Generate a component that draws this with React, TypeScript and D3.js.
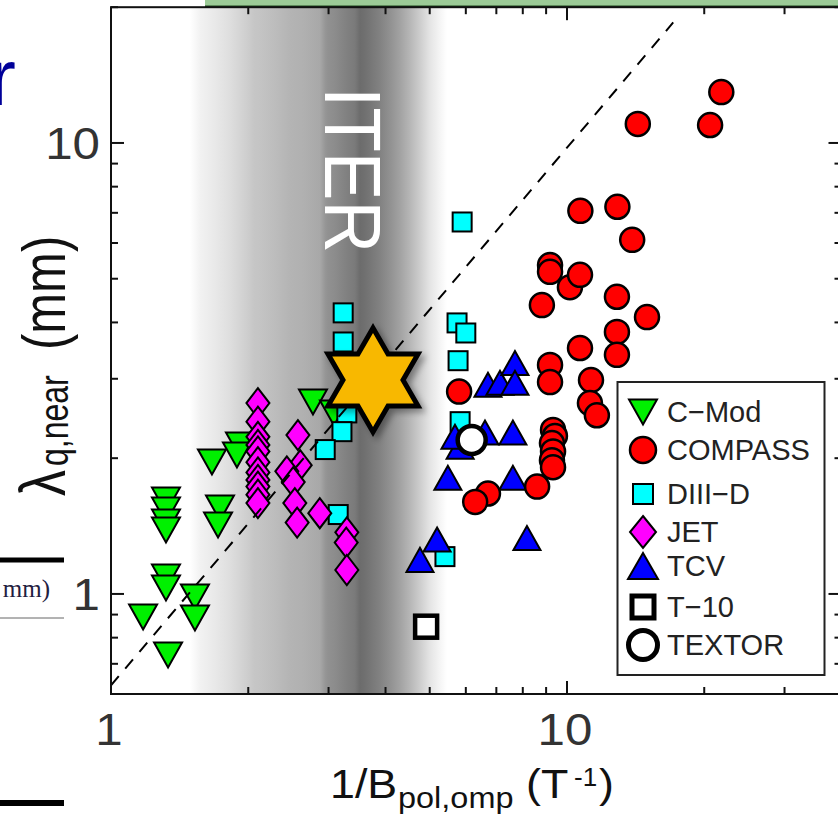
import React from "react";
import * as d3 from "d3";

// ---------- data ----------
const xDomain = [1, 40];
const yDomain = [0.6, 20];
const xMajorTicks = [1, 10];
const xMinorTicks = [2, 3, 4, 5, 6, 7, 8, 9, 20, 30, 40];
const yMajorTicks = [1, 10];
const yMinorTicks = [0.6, 0.7, 0.8, 0.9, 2, 3, 4, 5, 6, 7, 8, 9, 20];
const xTickLabels = ["1", "10"];
const yTickLabels = ["1", "10"];

const cmodX = [1.176, 1.32, 1.32, 1.32, 1.32, 1.32, 1.32, 1.334, 1.528, 1.528, 1.665, 1.734, 1.717, 1.918, 1.889, 2.773, 3.083];
const cmodY = [0.889, 1.616, 1.536, 1.444, 1.386, 1.091, 1.031, 0.732, 0.985, 0.885, 1.962, 1.551, 1.422, 2.14, 2.033, 2.666, 2.52];

const diiidX = [3.23, 3.23, 3.29, 3.21, 2.95, 3.15, 5.89, 5.74, 6.0, 5.77, 5.83, 5.4];
const diiidY = [4.2, 3.62, 2.52, 2.29, 2.09, 1.5, 6.68, 3.99, 3.79, 3.29, 2.41, 1.21];

const jetX = [2.1, 2.1, 2.1, 2.1, 2.1, 2.1, 2.1, 2.1, 2.1, 2.1, 2.1, 2.57, 2.6, 2.43, 2.51, 2.53, 2.56, 2.87, 3.29, 3.28, 3.29];
const jetY = [2.65, 2.41, 2.23, 2.14, 2.07, 1.96, 1.86, 1.79, 1.73, 1.66, 1.59, 2.25, 1.93, 1.87, 1.77, 1.59, 1.44, 1.51, 1.37, 1.3, 1.13];

const tcvX = [4.76, 5.19, 5.48, 5.83, 5.68, 6.71, 7.13, 7.69, 7.69, 6.61, 7.61, 7.61, 8.17];
const tcvY = [1.19, 1.32, 1.81, 2.12, 2.23, 2.91, 2.94, 3.25, 2.94, 2.28, 2.28, 1.81, 1.33];

const compassX = [21.8, 14.3, 20.6, 10.7, 12.9, 13.9, 9.18, 9.18, 10.15, 10.68, 8.81, 12.87, 14.98, 12.87, 10.68, 12.87, 9.18, 9.18, 11.29, 11.23, 11.63, 5.8, 9.32, 9.41, 9.27, 9.32, 9.27, 9.32, 8.6, 6.71, 6.29];
const compassY = [12.97, 11.02, 10.96, 7.07, 7.22, 6.1, 5.36, 5.18, 4.79, 5.1, 4.37, 4.56, 4.11, 3.81, 3.51, 3.39, 3.22, 2.95, 2.98, 2.65, 2.49, 2.81, 2.31, 2.24, 2.16, 2.07, 1.98, 1.91, 1.73, 1.67, 1.6];

const t10X = [4.91];
const t10Y = [0.846];
const textorX = [6.18];
const textorY = [2.195];

const iterX = [3.755];
const iterY = [2.982];

const fitX = [1.0, 17.1];
const fitY = [0.627, 18.5];

// ITER 1/Bpol distribution band (x position, grey level)
const bandX = [1.49, 1.567, 1.7, 1.824, 1.997, 2.06, 2.122, 2.3, 2.47, 2.65, 2.873, 2.95, 2.99, 3.1, 3.179, 3.3, 3.428, 3.517, 3.6, 3.698, 3.89, 4.091, 4.303, 4.5, 4.761, 5.0, 5.267, 5.456];
const bandGray = [255, 242, 232, 222, 205, 198, 196, 188, 180, 176, 168, 150, 145, 140, 135, 128, 122, 108, 112, 118, 130, 145, 162, 180, 205, 228, 245, 255];

const legendLabels = ["C\u2212Mod", "COMPASS", "DIII\u2212D", "JET", "TCV", "T\u221210", "TEXTOR"];

// ---------- layout ----------
const W = 838;
const H = 815;
const P = { left: 111, right: 841.5, top: 7.2, bottom: 694 };
const FONT = "'Liberation Sans', Arial, Helvetica, sans-serif";

const x = d3.scaleLog().domain(xDomain).range([P.left, P.right]);
const y = d3.scaleLog().domain(yDomain).range([P.bottom, P.top]);

const zip = (xs: number[], ys: number[]) => xs.map((v, i) => ({ x: v, y: ys[i] }));

const triDown = (cx: number, cy: number, hw = 14, h = 25) =>
  `M${cx - hw},${cy - h / 2}L${cx + hw},${cy - h / 2}L${cx},${cy + h / 2}Z`;
const triUp = (cx: number, cy: number, hw = 14, h = 25) =>
  `M${cx - hw},${cy + h / 2}L${cx + hw},${cy + h / 2}L${cx},${cy - h / 2}Z`;
const diamond = (cx: number, cy: number, rx = 11.5, ry = 15) =>
  `M${cx},${cy - ry}L${cx + rx},${cy}L${cx},${cy + ry}L${cx - rx},${cy}Z`;
const hexagram = (cx: number, cy: number, R = 52, r = 30) => {
  const pts: string[] = [];
  for (let i = 0; i < 12; i++) {
    const a = -Math.PI / 2 + (i * Math.PI) / 6;
    const rr = i % 2 === 0 ? R : r;
    pts.push(`${cx + rr * Math.cos(a)},${cy + rr * Math.sin(a)}`);
  }
  return "M" + pts.join("L") + "Z";
};

export default function App() {
  const cmod = zip(cmodX, cmodY);
  const diiid = zip(diiidX, diiidY);
  const jet = zip(jetX, jetY);
  const tcv = zip(tcvX, tcvY);
  const compass = zip(compassX, compassY);
  const t10 = zip(t10X, t10Y);
  const textor = zip(textorX, textorY);
  const iter = zip(iterX, iterY);
  const fit = zip(fitX, fitY);

  const bx0 = x(bandX[0]);
  const bx1 = x(bandX[bandX.length - 1]);
  const line = d3.line<{ x: number; y: number }>().x((d) => x(d.x)).y((d) => y(d.y));

  const sw = 2;
  const legX = 643;
  const legTextX = 667;
  const legRows = [412, 450, 494, 532, 566, 607, 645];

  return (
    <svg width={W} height={H} style={{ position: "absolute", left: 0, top: 0, background: "#fff" }} fontFamily={FONT}>
      <defs>
        <clipPath id="plotClip">
          <rect x={P.left} y={P.top} width={P.right - P.left} height={P.bottom - P.top} />
        </clipPath>
        <linearGradient id="band" gradientUnits="userSpaceOnUse" x1={bx0} x2={bx1} y1={0} y2={0}>
          {bandX.map((v, i) => (
            <stop key={i} offset={(x(v) - bx0) / (bx1 - bx0)} stopColor={d3.rgb(bandGray[i], bandGray[i], bandGray[i]).toString()} />
          ))}
        </linearGradient>
        <filter id="shadow" x="-30%" y="-30%" width="160%" height="160%">
          <feDropShadow dx="4" dy="4" stdDeviation="3" floodColor="#000" floodOpacity="0.35" />
        </filter>
      </defs>

      {/* background slide fragments */}
      <rect x={205} y={0} width={W - 205} height={6} fill="#9ccb97" />
      <line x1={205} x2={W} y1={6.5} y2={6.5} stroke="#1f4a1f" strokeWidth={2} />
      <text x={16} y={105} textAnchor="end" fontSize={80} fill="#000099">r</text>
      <line x1={0} x2={64} y1={560} y2={560} stroke="#000" strokeWidth={5} />
      <text x={50} y={597} textAnchor="end" fontSize={25} fontFamily="'Liberation Serif', 'Times New Roman', serif" fill="#1f2040">mm)</text>
      <line x1={0} x2={64} y1={618} y2={618} stroke="#666" strokeWidth={1} />
      <line x1={0} x2={64} y1={803} y2={803} stroke="#000" strokeWidth={6} />

      {/* ITER band */}
      <g clipPath="url(#plotClip)">
        <rect x={bx0} y={P.top} width={bx1 - bx0} height={P.bottom - P.top} fill="url(#band)" />
      </g>
      <text transform={`translate(325,87) scale(1.1,1) rotate(90)`} fontSize={73} fill="#fff">ITER</text>

      {/* markers */}
      <g stroke="#000" strokeWidth={sw} strokeLinejoin="miter">
        {cmod.map((d, i) => (
          <path key={"c" + i} d={triDown(x(d.x), y(d.y))} fill="#00f000" />
        ))}
        {diiid.map((d, i) => (
          <rect key={"d" + i} x={x(d.x) - 9.5} y={y(d.y) - 9.5} width={19} height={19} fill="#00ffff" />
        ))}
        {jet.map((d, i) => (
          <path key={"j" + i} d={diamond(x(d.x), y(d.y))} fill="#ff00ff" />
        ))}
        {tcv.map((d, i) => (
          <path key={"t" + i} d={triUp(x(d.x), y(d.y), 13.5, 24)} fill="#0000ff" />
        ))}
        {compass.map((d, i) => (
          <circle key={"m" + i} cx={x(d.x)} cy={y(d.y)} r={12} fill="#ff0000" strokeWidth={2.5} />
        ))}
      </g>

      {/* fit line */}
      <g clipPath="url(#plotClip)">
        <path d={line(fit) || ""} fill="none" stroke="#000" strokeWidth={2} strokeDasharray="12,10" />
      </g>

      {t10.map((d, i) => (
        <rect key={"x" + i} x={x(d.x) - 11} y={y(d.y) - 11} width={22} height={22} fill="#fff" stroke="#000" strokeWidth={4.5} />
      ))}
      {textor.map((d, i) => (
        <circle key={"o" + i} cx={x(d.x)} cy={y(d.y)} r={14} fill="#fff" stroke="#000" strokeWidth={4.5} />
      ))}
      {iter.map((d, i) => (
        <path key={"s" + i} d={hexagram(x(d.x), y(d.y))} fill="#f8b800" stroke="#000" strokeWidth={5} strokeLinejoin="miter" filter="url(#shadow)" />
      ))}

      {/* frame */}
      <rect x={P.left} y={P.top} width={P.right - P.left} height={P.bottom - P.top} fill="none" stroke="#111" strokeWidth={2} />
      <g stroke="#111" strokeWidth={2}>
        {xMajorTicks.map((t, i) => (
          <g key={"xM" + i}>
            <line x1={x(t)} x2={x(t)} y1={P.bottom} y2={P.bottom - 13} />
            <line x1={x(t)} x2={x(t)} y1={P.top} y2={P.top + 13} />
          </g>
        ))}
        {xMinorTicks.map((t, i) => (
          <g key={"xm" + i}>
            <line x1={x(t)} x2={x(t)} y1={P.bottom} y2={P.bottom - 7} />
            <line x1={x(t)} x2={x(t)} y1={P.top} y2={P.top + 7} />
          </g>
        ))}
        {yMajorTicks.map((t, i) => (
          <g key={"yM" + i}>
            <line x1={P.left} x2={P.left + 13} y1={y(t)} y2={y(t)} />
            <line x1={P.right} x2={P.right - 13} y1={y(t)} y2={y(t)} />
          </g>
        ))}
        {yMinorTicks.map((t, i) => (
          <g key={"ym" + i}>
            <line x1={P.left} x2={P.left + 7} y1={y(t)} y2={y(t)} />
            <line x1={P.right} x2={P.right - 7} y1={y(t)} y2={y(t)} />
          </g>
        ))}
      </g>

      {/* tick labels */}
      {xMajorTicks.map((t, i) => (
        <text key={"xl" + i} transform={`translate(${x(t) - 2},745) scale(1.12,1)`} textAnchor="middle" fontSize={44} fill="#333">
          {xTickLabels[i]}
        </text>
      ))}
      {yMajorTicks.map((t, i) => (
        <text key={"yl" + i} transform={`translate(100,${y(t) + 16}) scale(1.12,1)`} textAnchor="end" fontSize={44} fill="#333">
          {yTickLabels[i]}
        </text>
      ))}

      {/* axis titles */}
      <g fill="#111">
        <text transform="translate(330,798) scale(1.12,1)" fontSize={40}>1/B</text>
        <text transform="translate(398,808) scale(1.12,1)" fontSize={29}>pol,omp</text>
        <text transform="translate(526,798) scale(1.12,1)" fontSize={40}>(T</text>
        <text transform="translate(574,786) scale(1.0,1)" fontSize={26}>-1</text>
        <text transform="translate(599,798) scale(1.12,1)" fontSize={40}>)</text>
      </g>
      <g fill="#111" transform="translate(65,0) scale(1.25,1) rotate(-90)">
        <text x={-496} y={0} fontSize={52}>λ</text>
        <text x={-466} y={2} fontSize={32}>q,near</text>
        <text x={-350} y={0} fontSize={49}>(mm)</text>
      </g>

      {/* legend */}
      <rect x={617.5} y={382} width={207} height={293} fill="#fff" stroke="#222" strokeWidth={2} />
      <g stroke="#000" strokeWidth={sw}>
        <path d={triDown(legX, legRows[0], 14, 25)} fill="#00f000" />
        <circle cx={legX} cy={legRows[1]} r={13} fill="#ff0000" strokeWidth={2.5} />
        <rect x={legX - 10} y={legRows[2] - 10} width={20} height={20} fill="#00ffff" />
        <path d={diamond(legX, legRows[3], 13, 16)} fill="#ff00ff" />
        <path d={triUp(legX, legRows[4], 15, 26)} fill="#0000ff" />
        <rect x={legX - 11} y={legRows[5] - 11} width={22} height={22} fill="#fff" strokeWidth={5} />
        <circle cx={legX} cy={legRows[6]} r={14.5} fill="#fff" strokeWidth={5} />
      </g>
      {legendLabels.map((l, i) => (
        <text key={"lg" + i} x={legTextX} y={legRows[i] + 10} fontSize={29} fill="#222">
          {l}
        </text>
      ))}
    </svg>
  );
}
